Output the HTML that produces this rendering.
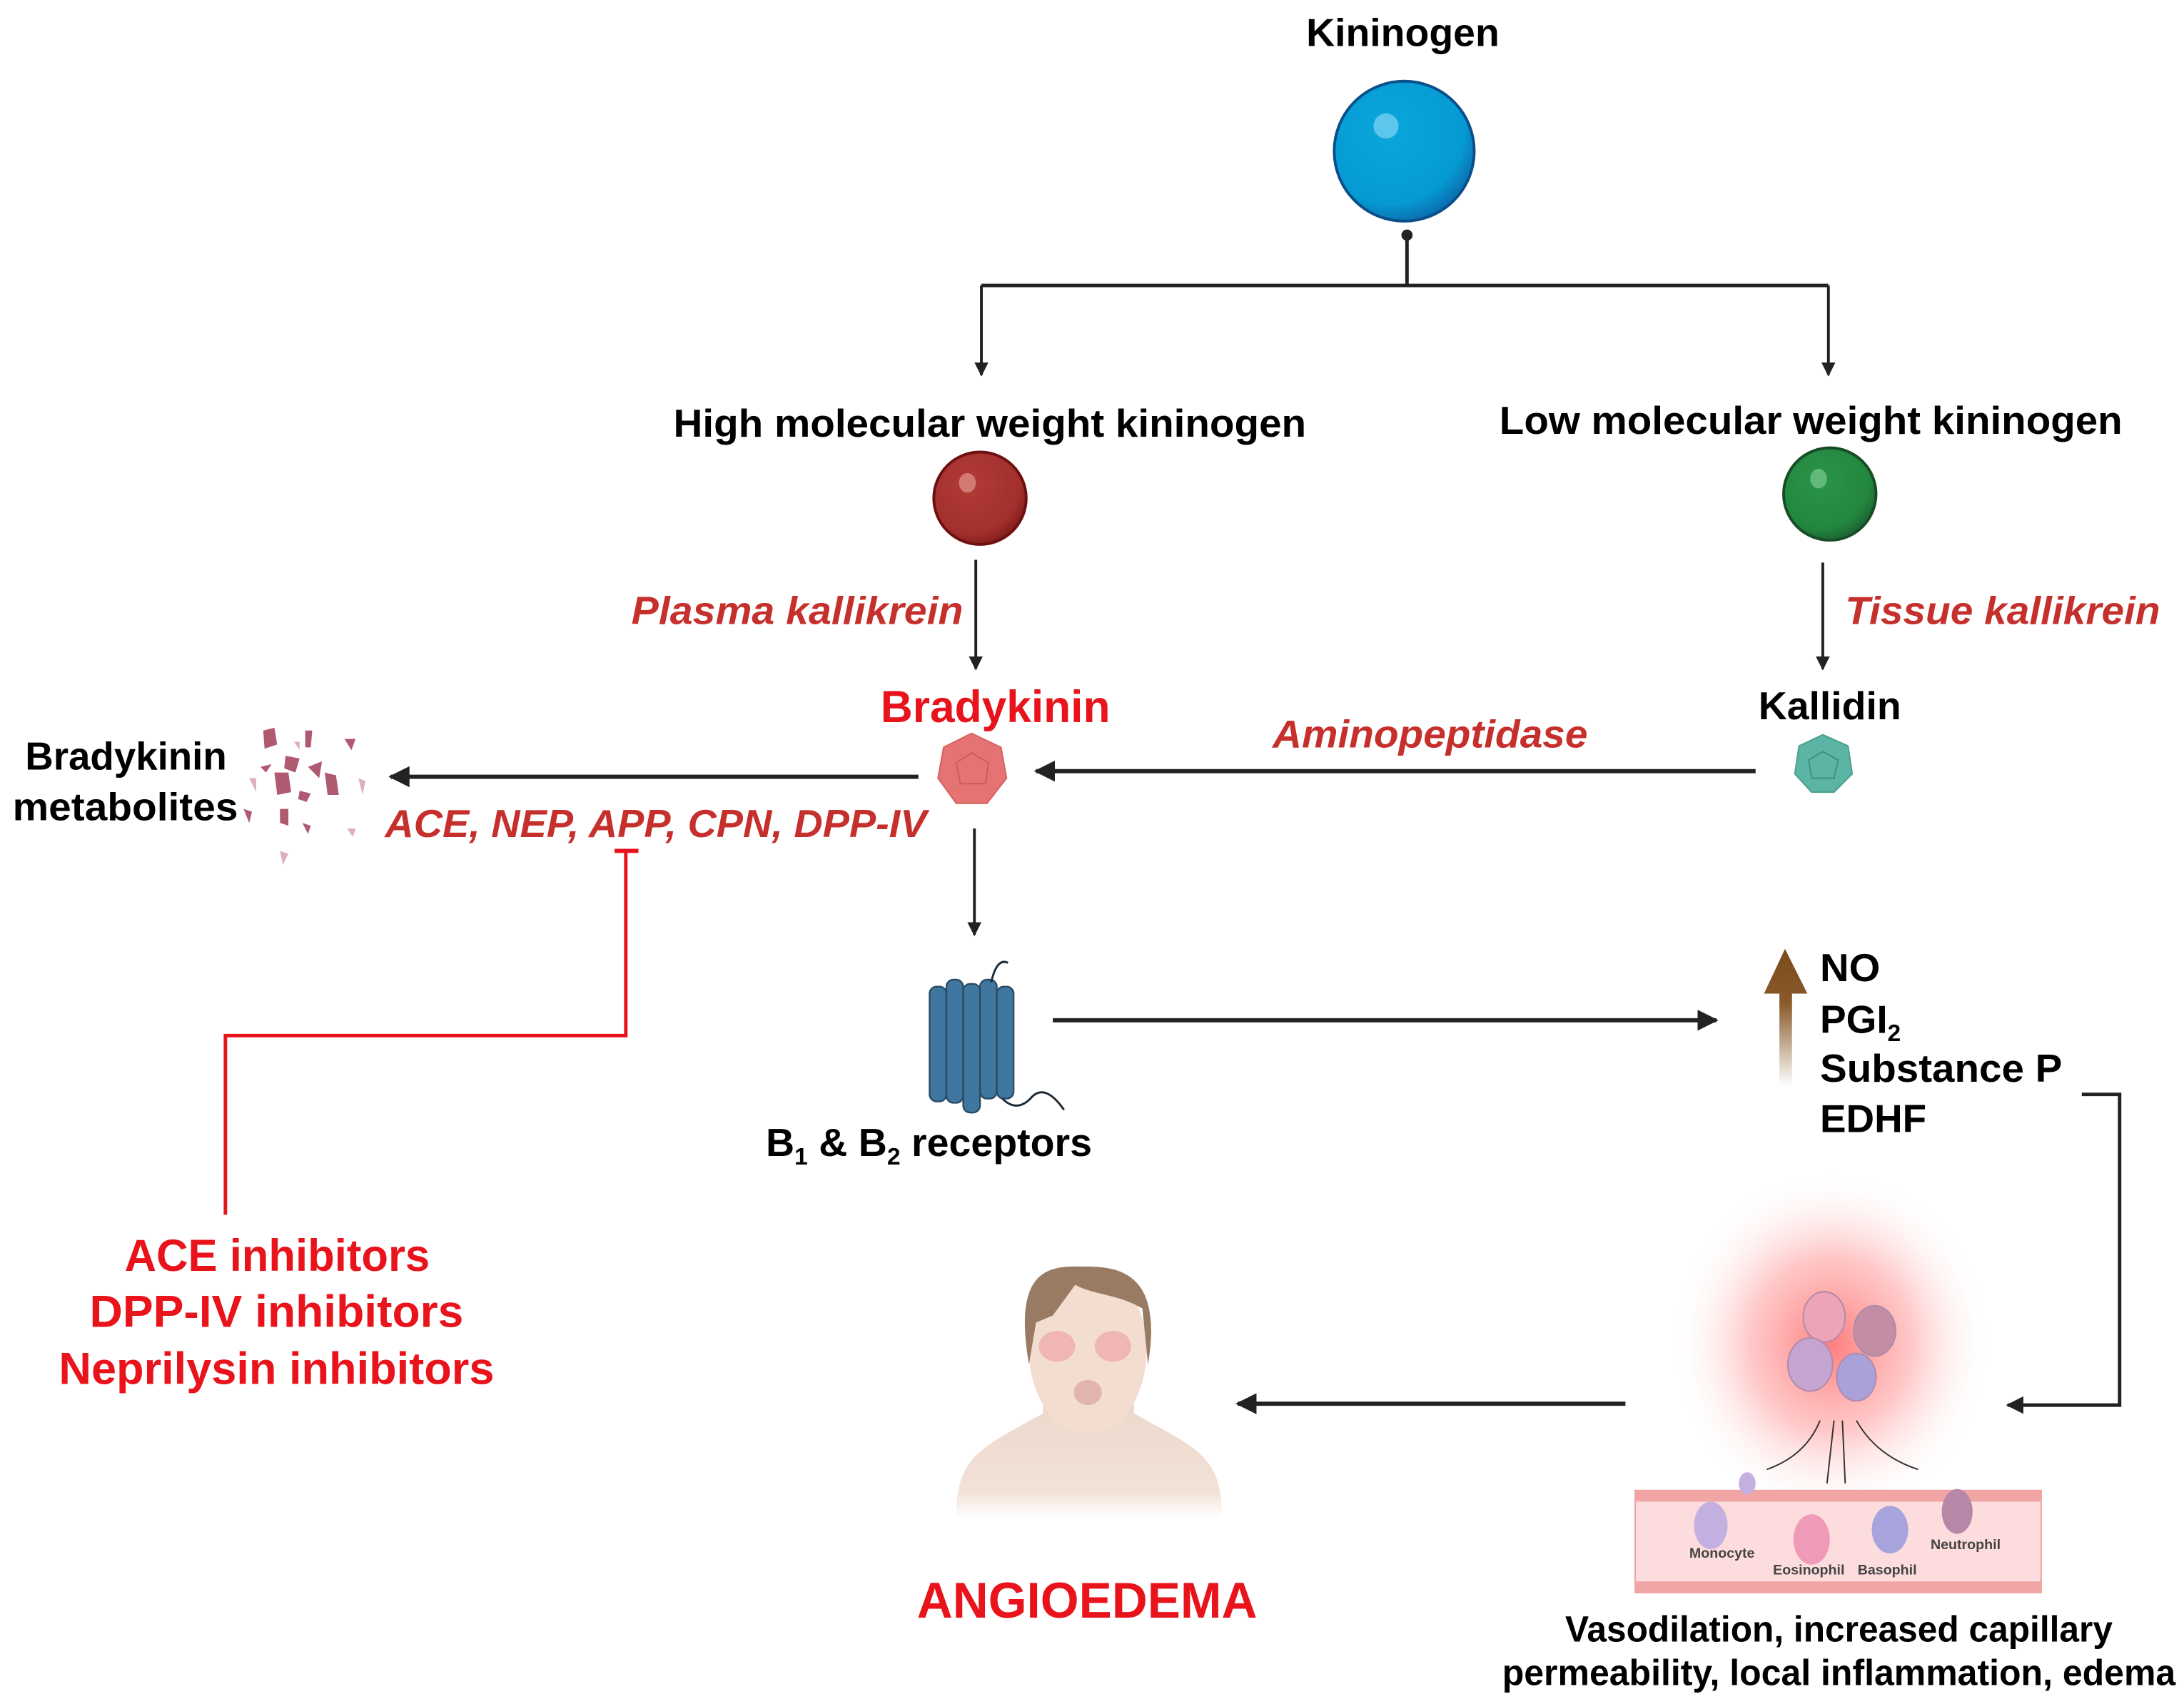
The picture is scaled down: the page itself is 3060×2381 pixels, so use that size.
<!DOCTYPE html>
<html><head><meta charset="utf-8"><style>
html,body{margin:0;padding:0;background:#fff}
svg{display:block}
text{font-family:"Liberation Sans",sans-serif;font-weight:bold}
</style></head><body>
<svg width="3060" height="2381" viewBox="0 0 1560 1214" preserveAspectRatio="none" xmlns="http://www.w3.org/2000/svg">
<defs>
<marker id="ah" viewBox="0 0 10 10" refX="9" refY="5" markerWidth="5" markerHeight="5" orient="auto-start-reverse"><path d="M0,0 L10,5 L0,10 z" fill="#222"/></marker>
<radialGradient id="blue" cx="0.4" cy="0.35" r="0.7"><stop offset="0" stop-color="#0aa6dc"/><stop offset="0.75" stop-color="#069ad3"/><stop offset="1" stop-color="#0a66a8"/></radialGradient>
<radialGradient id="red" cx="0.4" cy="0.35" r="0.7"><stop offset="0" stop-color="#b03a36"/><stop offset="0.75" stop-color="#a3302d"/><stop offset="1" stop-color="#7d1a1a"/></radialGradient>
<radialGradient id="green" cx="0.4" cy="0.35" r="0.7"><stop offset="0" stop-color="#2a9448"/><stop offset="0.75" stop-color="#23863f"/><stop offset="1" stop-color="#1c5e30"/></radialGradient>
<radialGradient id="glow" cx="0.5" cy="0.5" r="0.5"><stop offset="0" stop-color="#ff6f6f" stop-opacity="0.9"/><stop offset="0.5" stop-color="#ff9a9a" stop-opacity="0.55"/><stop offset="1" stop-color="#fff" stop-opacity="0"/></radialGradient>
<linearGradient id="brown" x1="0" y1="1" x2="0" y2="0"><stop offset="0" stop-color="#8b5a2b" stop-opacity="0"/><stop offset="0.6" stop-color="#8b5a2b"/><stop offset="1" stop-color="#7a4a1e"/></linearGradient>
<linearGradient id="fade" x1="0" y1="0" x2="0" y2="1"><stop offset="0" stop-color="#ecd6c8"/><stop offset="0.8" stop-color="#f2e2d8"/><stop offset="1" stop-color="#fff"/></linearGradient>
</defs>

<text x="933" y="33" font-size="28" textLength="138" lengthAdjust="spacingAndGlyphs">Kininogen</text>
<circle cx="1003" cy="108" r="50" fill="url(#blue)" stroke="#0a4f8a" stroke-width="2"/>
<ellipse cx="990" cy="90" rx="9" ry="9" fill="#5cc6ec"/>
<circle cx="1005" cy="168" r="4" fill="#222"/>
<path d="M1005,168 V204 M701,204 H1306" stroke="#222" stroke-width="2.5" fill="none"/>
<line x1="701" y1="204" x2="701" y2="268" stroke="#222" stroke-width="2" marker-end="url(#ah)"/>
<line x1="1306" y1="204" x2="1306" y2="268" stroke="#222" stroke-width="2" marker-end="url(#ah)"/>

<text x="481" y="312" font-size="28" textLength="452" lengthAdjust="spacingAndGlyphs">High molecular weight kininogen</text>
<text x="1071" y="310" font-size="28" textLength="445" lengthAdjust="spacingAndGlyphs">Low molecular weight kininogen</text>
<circle cx="700" cy="356" r="33" fill="url(#red)" stroke="#6d1010" stroke-width="2"/>
<ellipse cx="691" cy="345" rx="6" ry="7" fill="#d47a75"/>
<circle cx="1307" cy="353" r="33" fill="url(#green)" stroke="#174d26" stroke-width="2"/>
<ellipse cx="1299" cy="342" rx="6" ry="7" fill="#62b87b"/>

<line x1="697" y1="400" x2="697" y2="478" stroke="#222" stroke-width="2" marker-end="url(#ah)"/>
<line x1="1302" y1="402" x2="1302" y2="478" stroke="#222" stroke-width="2" marker-end="url(#ah)"/>
<text x="451" y="446" font-size="28" font-style="italic" fill="#c6302c" textLength="237" lengthAdjust="spacingAndGlyphs">Plasma kallikrein</text>
<text x="1318" y="446" font-size="28" font-style="italic" fill="#c6302c" textLength="225" lengthAdjust="spacingAndGlyphs">Tissue kallikrein</text>

<text x="629" y="516" font-size="32" fill="#e8131b" textLength="164" lengthAdjust="spacingAndGlyphs">Bradykinin</text>
<polygon points="694,524 715,534 719,556 705,574 683,574 670,556 674,534" fill="#e57373" stroke="#d96060" stroke-width="1"/>
<path d="M683,545 L694,538 L706,545 L704,560 L686,560 Z" fill="none" stroke="#d05a5a" stroke-width="1"/>
<text x="1256" y="514" font-size="28" textLength="102" lengthAdjust="spacingAndGlyphs">Kallidin</text>
<polygon points="1302,525 1320,533 1323,553 1310,566 1294,566 1282,553 1285,533" fill="#5bb4a4" stroke="#4aa090" stroke-width="1"/>
<path d="M1292,543 L1302,537 L1313,543 L1310,556 L1294,556 Z" fill="none" stroke="#3d8f80" stroke-width="1"/>

<line x1="1254" y1="551" x2="740" y2="551" stroke="#222" stroke-width="3" marker-end="url(#ah)"/>
<text x="909" y="534" font-size="28" font-style="italic" fill="#c6302c" textLength="225" lengthAdjust="spacingAndGlyphs">Aminopeptidase</text>
<line x1="656" y1="555" x2="279" y2="555" stroke="#222" stroke-width="3" marker-end="url(#ah)"/>
<text x="275" y="598" font-size="28" font-style="italic" fill="#c6302c" textLength="387" lengthAdjust="spacingAndGlyphs">ACE, NEP, APP, CPN, DPP-IV</text>

<text x="18" y="550" font-size="28" textLength="144" lengthAdjust="spacingAndGlyphs">Bradykinin</text>
<text x="9" y="586" font-size="28" textLength="161" lengthAdjust="spacingAndGlyphs">metabolites</text>
<g fill="#b05a72">
<path d="M188,522 l8,-2 l2,12 l-9,3 z"/><path d="M218,522 l5,0 l-1,12 l-4,0 z"/><path d="M246,528 l8,0 l-3,8 z"/>
<path d="M204,540 l10,2 l-3,10 l-8,-3 z"/><path d="M220,548 l10,-4 l-2,12 z"/><path d="M232,552 l8,2 l2,14 l-8,0 z"/>
<path d="M196,552 l10,0 l2,14 l-10,2 z"/><path d="M214,565 l8,2 l-3,6 l-6,-2 z"/><path d="M200,578 l6,0 l0,12 l-6,-2 z"/>
<path d="M174,578 l6,2 l-2,8 z"/><path d="M216,588 l6,2 l-2,6 z"/><path d="M194,546 l-8,2 l4,4 z"/>
</g>
<g fill="#ddb0bc"><path d="M178,556 l5,0 l0,10 z"/><path d="M256,556 l5,2 l-2,10 z"/><path d="M248,592 l6,0 l-2,6 z"/><path d="M200,608 l6,2 l-4,8 z"/><path d="M210,530 l4,0 l0,6 z"/></g>

<path d="M447,608 V740 H161 V868" stroke="#e8131b" stroke-width="2.5" fill="none"/>
<line x1="439" y1="608" x2="456" y2="608" stroke="#e8131b" stroke-width="3"/>

<line x1="696" y1="592" x2="696" y2="668" stroke="#222" stroke-width="2" marker-end="url(#ah)"/>

<g stroke="#2b4a63" stroke-width="1.2" fill="#3f77a0">
<rect x="664" y="705" width="12" height="82" rx="5"/>
<rect x="676" y="700" width="12" height="88" rx="5"/>
<rect x="688" y="703" width="12" height="92" rx="5"/>
<rect x="700" y="700" width="12" height="85" rx="5"/>
<rect x="712" y="705" width="12" height="80" rx="5"/>
</g>
<path d="M708,702 q4,-18 12,-14 M716,785 q10,10 20,0 q10,-12 24,8" stroke="#1d2b38" stroke-width="1.5" fill="none"/>
<text x="547" y="826" font-size="28" textLength="233" lengthAdjust="spacingAndGlyphs">B<tspan font-size="17" dy="6">1</tspan><tspan dy="-6"> &amp; B</tspan><tspan font-size="17" dy="6">2</tspan><tspan dy="-6"> receptors</tspan></text>

<line x1="752" y1="729" x2="1226" y2="729" stroke="#222" stroke-width="3" marker-end="url(#ah)"/>

<path d="M1271,776 V710 H1260 L1275,678 L1291,710 H1280 V776 Z" fill="url(#brown)"/>
<text x="1300" y="701" font-size="28" textLength="43" lengthAdjust="spacingAndGlyphs">NO</text>
<text x="1300" y="738" font-size="28">PGI<tspan font-size="17" dy="6">2</tspan></text>
<text x="1300" y="773" font-size="28" textLength="173" lengthAdjust="spacingAndGlyphs">Substance P</text>
<text x="1300" y="809" font-size="28" textLength="76" lengthAdjust="spacingAndGlyphs">EDHF</text>

<path d="M1487,782 H1514 V1004 H1434" stroke="#222" stroke-width="2.5" fill="none" marker-end="url(#ah)"/>
<line x1="1161" y1="1003" x2="884" y2="1003" stroke="#222" stroke-width="3" marker-end="url(#ah)"/>

<text x="89" y="908" font-size="32" fill="#e8131b" textLength="218" lengthAdjust="spacingAndGlyphs">ACE inhibitors</text>
<text x="64" y="948" font-size="32" fill="#e8131b" textLength="267" lengthAdjust="spacingAndGlyphs">DPP-IV inhibitors</text>
<text x="42" y="989" font-size="32" fill="#e8131b" textLength="311" lengthAdjust="spacingAndGlyphs">Neprilysin inhibitors</text>

<path d="M683,1085 C683,1040 700,1035 745,1010 L745,990 L810,990 L810,1010 C855,1035 873,1040 873,1085 Z" fill="url(#fade)"/>
<ellipse cx="777" cy="965" rx="42" ry="60" fill="#f3ddd0"/>
<path d="M735,975 C722,900 755,905 777,905 C805,905 830,915 820,975 L816,935 C800,925 780,925 768,918 L752,940 L740,945 Z" fill="#987b62"/>
<ellipse cx="755" cy="962" rx="13" ry="11" fill="#f0b5b5"/><ellipse cx="795" cy="962" rx="13" ry="11" fill="#f0b5b5"/>
<ellipse cx="777" cy="995" rx="10" ry="9" fill="#e3b3ad"/>

<ellipse cx="1308" cy="960" rx="115" ry="125" fill="url(#glow)"/>
<g stroke="#b08aa8" stroke-width="1"><ellipse cx="1303" cy="941" rx="15" ry="18" fill="#eea4b8"/><ellipse cx="1339" cy="951" rx="15" ry="18" fill="#c38da5"/><ellipse cx="1293" cy="975" rx="16" ry="19" fill="#c6a4d2"/><ellipse cx="1326" cy="984" rx="14" ry="17" fill="#a9a1d8"/></g>
<path d="M1262,1050 Q1290,1040 1300,1015 M1305,1060 L1310,1015 M1318,1060 L1316,1015 M1370,1050 Q1340,1040 1326,1015" stroke="#333" stroke-width="1" fill="none"/>
<rect x="1168" y="1065" width="290" height="73" fill="#fcdcdc" stroke="#f0a0a0" stroke-width="1"/>
<rect x="1168" y="1065" width="290" height="8" fill="#f2a5a5"/><rect x="1168" y="1130" width="290" height="8" fill="#f2a5a5"/>
<ellipse cx="1222" cy="1090" rx="12" ry="17" fill="#c4b0e0"/><ellipse cx="1248" cy="1060" rx="6" ry="8" fill="#c4b0e0"/>
<ellipse cx="1294" cy="1100" rx="13" ry="18" fill="#ee9ab8"/><ellipse cx="1350" cy="1093" rx="13" ry="17" fill="#a7a4dd"/><ellipse cx="1398" cy="1080" rx="11" ry="16" fill="#b886a6"/>
<g font-size="10" fill="#444" text-anchor="middle"><text x="1230" y="1113" font-weight="normal">Monocyte</text><text x="1292" y="1125" font-weight="normal">Eosinophil</text><text x="1348" y="1125" font-weight="normal">Basophil</text><text x="1404" y="1107" font-weight="normal">Neutrophil</text></g>

<text x="655" y="1156" font-size="36" fill="#e8131b" textLength="243" lengthAdjust="spacingAndGlyphs">ANGIOEDEMA</text>
<text x="1118" y="1173" font-size="26" textLength="391" lengthAdjust="spacingAndGlyphs">Vasodilation, increased capillary</text>
<text x="1073" y="1204" font-size="26" textLength="481" lengthAdjust="spacingAndGlyphs">permeability, local inflammation, edema</text>
</svg>
</body></html>
